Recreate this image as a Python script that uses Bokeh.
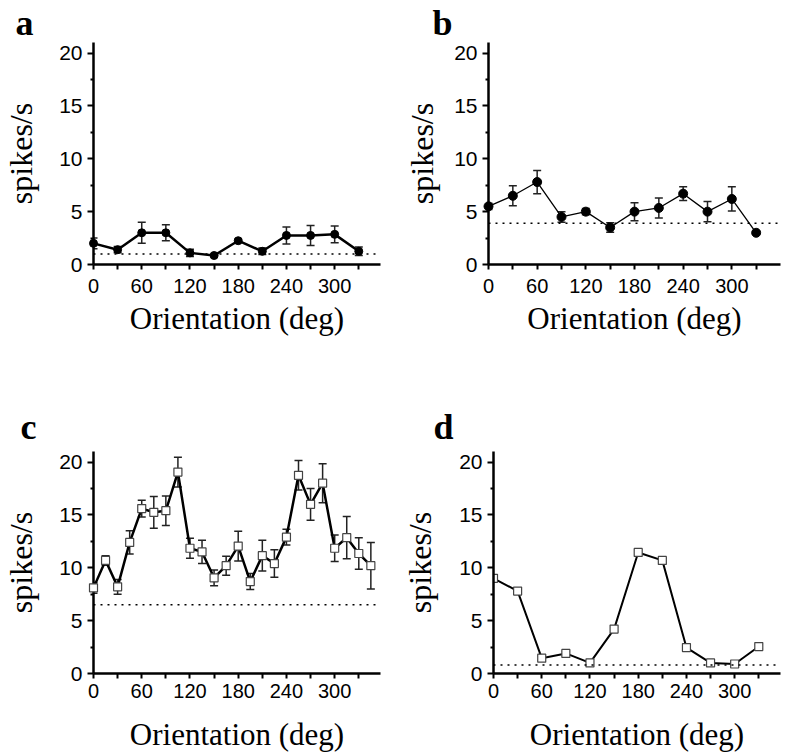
from bokeh.plotting import figure
from bokeh.models import Range1d, FixedTicker, Whisker, TeeHead, ColumnDataSource, Span, Title
from bokeh.layouts import column, row
from bokeh.embed import file_html
from bokeh.resources import INLINE

# ---------------- data ----------------
ori_30 = [0, 30, 60, 90, 120, 150, 180, 210, 240, 270, 300, 330]
ori_15 = [0, 15, 30, 45, 60, 75, 90, 105, 120, 135, 150, 165,
          180, 195, 210, 225, 240, 255, 270, 285, 300, 315, 330, 345]

a_rate = [2.0, 1.4, 3.0, 3.0, 1.1, 0.85, 2.25, 1.25, 2.75, 2.75, 2.85, 1.25]
a_err = [0.5, 0.3, 1.0, 0.75, 0.35, 0.1, 0.15, 0.3, 0.8, 0.95, 0.8, 0.4]
a_base = 1.0

b_rate = [5.5, 6.5, 7.8, 4.5, 5.0, 3.5, 5.0, 5.35, 6.7, 5.0, 6.2, 3.0]
b_err = [0.3, 0.95, 1.1, 0.5, 0.3, 0.45, 0.85, 0.95, 0.65, 0.95, 1.15, 0.15]
b_base = 3.9

c_rate = [8.1, 10.7, 8.2, 12.4, 15.6, 15.25, 15.4, 19.05, 11.85, 11.5, 9.05, 10.2,
          12.05, 8.7, 11.15, 10.4, 12.9, 18.75, 16.0, 18.0, 11.85, 12.85, 11.35, 10.2]
c_err = [0.5, 0.45, 0.7, 1.1, 0.8, 1.5, 1.4, 1.4, 0.95, 1.1, 0.75, 0.9,
         1.4, 0.75, 1.45, 1.3, 0.75, 1.4, 1.5, 1.85, 1.25, 2.0, 1.5, 2.2]
c_base = 6.5

d_rate = [9.0, 7.8, 1.45, 1.9, 1.0, 4.2, 11.45, 10.7, 2.45, 1.0, 0.9, 2.55]
d_err = [0.3, 0.15, 0.2, 0.15, 0.1, 0.2, 0.25, 0.2, 0.2, 0.15, 0.15, 0.2]
d_base = 0.8

x_major = [0, 60, 120, 180, 240, 300]
x_minor = [30, 90, 150, 210, 270, 330]
y_major = [0, 5, 10, 15, 20]
y_minor = [2.5, 7.5, 12.5, 17.5]

SERIF = "Liberation Serif"
SANS = "Liberation Sans"


def panel(letter, xs, ys, errs, base, marker, line_w, msize, x_end,
          bl, bt, br, bb, fw, fh, letter_dx, letter_standoff,
          tick_standoff, xlab_standoff, ylab_standoff, marker_on_top):
    p = figure(frame_width=fw, frame_height=fh,
               min_border_left=bl, min_border_top=bt, min_border_right=br, min_border_bottom=bb,
               x_range=Range1d(0, x_end), y_range=Range1d(0, 21),
               output_backend="svg", toolbar_location=None)
    p.outline_line_color = None
    p.xgrid.visible = False
    p.ygrid.visible = False
    p.background_fill_color = "white"
    p.border_fill_color = "white"

    p.add_layout(Title(text=letter, text_font=SERIF, text_font_size="36px",
                       text_font_style="bold", text_color="black",
                       align="left", vertical_align="bottom",
                       offset=letter_dx, standoff=letter_standoff), "above")

    for ax in (p.xaxis[0], p.yaxis[0]):
        ax.axis_line_width = 2.5
        ax.axis_line_color = "black"
        ax.major_tick_line_width = 2
        ax.minor_tick_line_width = 2
        ax.major_tick_in = 0
        ax.minor_tick_in = 0
        ax.major_label_text_font = SANS
        ax.major_label_text_color = "black"
        ax.axis_label_text_font = SERIF
        ax.axis_label_text_font_style = "normal"
        ax.axis_label_text_color = "black"
        ax.axis_label_text_line_height = 1.0
        ax.major_label_text_line_height = 1.0

    p.xaxis.ticker = FixedTicker(ticks=x_major, minor_ticks=x_minor)
    p.xaxis.major_tick_out = 5
    p.xaxis.minor_tick_out = 5
    p.xaxis.major_label_standoff = tick_standoff
    p.xaxis.major_label_text_font_size = "20px"
    p.xaxis.axis_label = "Orientation (deg)"
    p.xaxis.axis_label_text_font_size = "31px"
    p.xaxis.axis_label_standoff = xlab_standoff

    p.yaxis.ticker = FixedTicker(ticks=y_major, minor_ticks=y_minor)
    p.yaxis.major_tick_out = 6
    p.yaxis.minor_tick_out = 3
    p.yaxis.major_label_standoff = 5
    p.yaxis.major_label_text_font_size = "21px"
    p.yaxis.axis_label = "spikes/s"
    p.yaxis.axis_label_text_font_size = "32px"
    p.yaxis.axis_label_standoff = ylab_standoff

    p.add_layout(Span(location=base, dimension="width", line_color="black",
                      line_width=1.5, line_dash="2 5"))

    src = ColumnDataSource(dict(x=xs, y=ys,
                                lo=[v - e for v, e in zip(ys, errs)],
                                hi=[v + e for v, e in zip(ys, errs)]))
    p.line("x", "y", source=src, line_color="black", line_width=line_w)
    p.add_layout(Whisker(base="x", lower="lo", upper="hi", source=src,
                         line_color="#222222", line_width=1.5,
                         lower_head=TeeHead(size=8, line_width=1.5, line_color="#222222"),
                         upper_head=TeeHead(size=8, line_width=1.5, line_color="#222222")))
    lvl = "overlay" if marker_on_top else "glyph"
    if marker == "circle":
        p.scatter("x", "y", source=src, marker="circle", size=msize,
                  fill_color="black", line_color="black", level=lvl)
    else:
        p.scatter("x", "y", source=src, marker="square", size=msize,
                  fill_color="white", line_color="#444444", line_width=1.2, level=lvl)
    return p


pa = panel("a", ori_30, a_rate, a_err, a_base, "circle", 2.5, 8, 357,
           93, 42, 18, 109, 287, 222, -78, 0, 9, 5, 17, True)
pb = panel("b", ori_30, b_rate, b_err, b_base, "circle", 1.3, 9, 360,
           90, 42, 4, 109, 292, 222, -56, 0, 9, 5, 11, True)
pc = panel("c", ori_15, c_rate, c_err, c_base, "square", 2.5, 8, 357,
           93, 78, 18, 79, 287, 222, -73, 10, 5, 16, 17, True)
pd_ = panel("d", ori_30, d_rate, d_err, d_base, "square", 2.0, 8, 357,
            95, 78, 4, 79, 287, 222, -60, 10, 5, 16, 18, False)

layout = column(row(pa, pb), row(pc, pd_))

open("out.html", "w").write(file_html(layout, INLINE))
